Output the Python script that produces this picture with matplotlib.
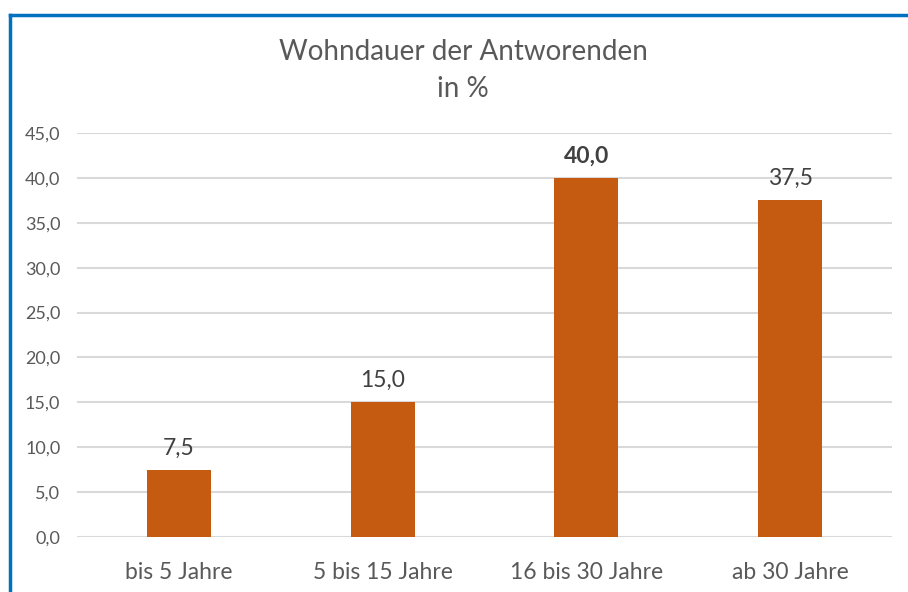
import matplotlib
matplotlib.use("Agg")
import matplotlib.pyplot as plt
from matplotlib.lines import Line2D

plt.rcParams['font.family'] = ['Lato', 'DejaVu Sans']

kategorien = ["bis 5 Jahre", "5 bis 15 Jahre", "16 bis 30 Jahre", "ab 30 Jahre"]
werte = [7.5, 15.0, 40.0, 37.5]
fett = [False, False, True, False]
y_ticks = [0, 5, 10, 15, 20, 25, 30, 35, 40, 45]

W, H = 908, 592
fig = plt.figure(figsize=(W / 100, H / 100), dpi=100)
ax = fig.add_axes([77 / W, 1 - 537 / H, (892 - 77) / W, (537 - 133) / H])

x = list(range(len(kategorien)))
ax.bar(x, werte, width=0.315, color="#C55A11", zorder=3)

for xi, v, b in zip(x, werte, fett):
    ax.annotate(("%.1f" % v).replace(".", ","), (xi, v), xytext=(0, 8),
                textcoords="offset points", ha="center", va="bottom",
                fontsize=16.5, color="#404040",
                fontweight="bold" if b else "normal", zorder=4)

ax.set_xlim(-0.5, len(kategorien) - 0.5)
ax.set_ylim(0, 45)
ax.set_yticks(y_ticks)
ax.set_yticklabels([("%.1f" % t).replace(".", ",") for t in y_ticks])
ax.set_xticks(x)
ax.set_xticklabels(kategorien, fontsize=16.5)
ax.tick_params(axis="y", labelsize=13, colors="#595959", length=0, pad=12)
ax.tick_params(axis="x", colors="#595959", length=0, pad=18)
ax.grid(axis="y", color="#D9D9D9", linewidth=1.5, zorder=0)
for s in ax.spines.values():
    s.set_visible(False)

fig.text(463 / W, 1 - 52 / H, "Wohndauer der Antworenden", ha="center",
         va="center", fontsize=20, color="#595959")
fig.text(463 / W, 1 - 89 / H, "in %", ha="center", va="center",
         fontsize=20, color="#595959")

# blauer Rahmen
fig.add_artist(Line2D([10 / W, 10 / W], [0, 1 - 15 / H], color="#0070C0",
                      linewidth=2.5, transform=fig.transFigure))
fig.add_artist(Line2D([10 / W, 1], [1 - 15 / H, 1 - 15 / H], color="#0070C0",
                      linewidth=2.5, transform=fig.transFigure))

fig.savefig("out.png", dpi=100)
